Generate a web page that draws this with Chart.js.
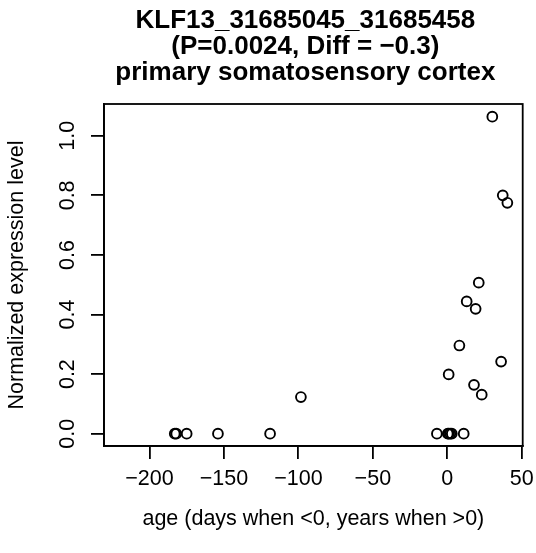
<!DOCTYPE html>
<html>
<head>
<meta charset="utf-8">
<script src="https://cdn.jsdelivr.net/npm/chart.js@4/dist/chart.umd.min.js"></script>
<style>
  html, body { margin: 0; padding: 0; background: #fff; }
  canvas { display: block; }
</style>
</head>
<body>
<canvas id="chart" width="536" height="553"></canvas>
<script>
// values
const ages = [-183, -182, -175, -154, -119, -98.3, -7, 0.3, 0.9, 1, 2, 3, 8.1, 11, 13.0,
              17.9, 19.0, 21.1, 23.1, 30.2, 36.1, 37.2, 40.3];
const expression = [0, 0, 0, 0, 0, 0.123, 0, 0, 0.199, 0, 0, 0, 0.296, 0, 0.444,
                    0.164, 0.419, 0.507, 0.131, 1.064, 0.242, 0.800, 0.775];

const xTicks = [-200, -150, -100, -50, 0, 50];
const xTickLabels = ['\u2212200', '\u2212150', '\u2212100', '\u221250', '0', '50'];
const yTicks = [0, 0.2, 0.4, 0.6, 0.8, 1.0];
const yTickLabels = ['0.0', '0.2', '0.4', '0.6', '0.8', '1.0'];

const titleLines = ['KLF13_31685045_31685458', '(P=0.0024, Diff = \u22120.3)', 'primary somatosensory cortex'];
const xTitle = 'age (days when <0, years when >0)';
const yTitle = 'Normalized expression level';

const FONT = '"Liberation Sans", Arial, Helvetica, sans-serif';

// R style box + labels, drawn after the library lays out the scales
const rLabels = {
  id: 'rLabels',
  afterDraw(chart) {
    const { ctx, chartArea: a, scales } = chart;
    const cx = (a.left + a.right) / 2;
    ctx.save();
    ctx.fillStyle = '#000';
    ctx.strokeStyle = '#000';
    ctx.lineWidth = 1.8;
    ctx.strokeRect(a.left, a.top, a.right - a.left, a.bottom - a.top);

    ctx.textAlign = 'center';
    ctx.textBaseline = 'alphabetic';
    ctx.font = 'bold 26px ' + FONT;
    [28, 54, 80].forEach((y, i) => ctx.fillText(titleLines[i], cx - 8, y));

    ctx.font = '21.5px ' + FONT;
    xTicks.forEach((v, i) => ctx.fillText(xTickLabels[i], scales.x.getPixelForValue(v), 485));
    ctx.fillText(xTitle, cx, 525);

    yTicks.forEach((v, i) => {
      ctx.save();
      ctx.translate(74, scales.y.getPixelForValue(v));
      ctx.rotate(-Math.PI / 2);
      ctx.fillText(yTickLabels[i], 0, 0);
      ctx.restore();
    });
    ctx.save();
    ctx.translate(23, (a.top + a.bottom) / 2);
    ctx.rotate(-Math.PI / 2);
    ctx.fillText(yTitle, 0, 0);
    ctx.restore();
    ctx.restore();
  }
};

const axisGrid = { drawOnChartArea: false, drawTicks: true, tickLength: 13, color: '#000', lineWidth: 1.8 };
const axisBorder = { display: true, color: '#000', width: 1.8 };

new Chart(document.getElementById('chart').getContext('2d'), {
  type: 'scatter',
  data: {
    datasets: [{
      data: ages.map((a, i) => ({ x: a, y: expression[i] })),
      pointStyle: 'circle',
      pointRadius: 4.9,
      pointBorderWidth: 1.9,
      borderColor: '#000',
      backgroundColor: 'rgba(0,0,0,0)'
    }]
  },
  options: {
    responsive: false,
    animation: false,
    devicePixelRatio: 1,
    layout: { padding: { left: 0, right: 13.3, top: 104, bottom: 0 } },
    plugins: { legend: { display: false }, tooltip: { enabled: false } },
    scales: {
      x: {
        type: 'linear',
        min: -230.5,
        max: 50.6,
        afterBuildTicks: s => { s.ticks = xTicks.map(v => ({ value: v })); },
        afterFit: s => { s.height = 107; },
        ticks: { display: false },
        grid: axisGrid,
        border: axisBorder
      },
      y: {
        type: 'linear',
        min: -0.0413,
        max: 1.1067,
        afterBuildTicks: s => { s.ticks = yTicks.map(v => ({ value: v })); },
        afterFit: s => { s.width = 104; },
        ticks: { display: false },
        grid: axisGrid,
        border: axisBorder
      }
    }
  },
  plugins: [rLabels]
});
</script>
</body>
</html>
